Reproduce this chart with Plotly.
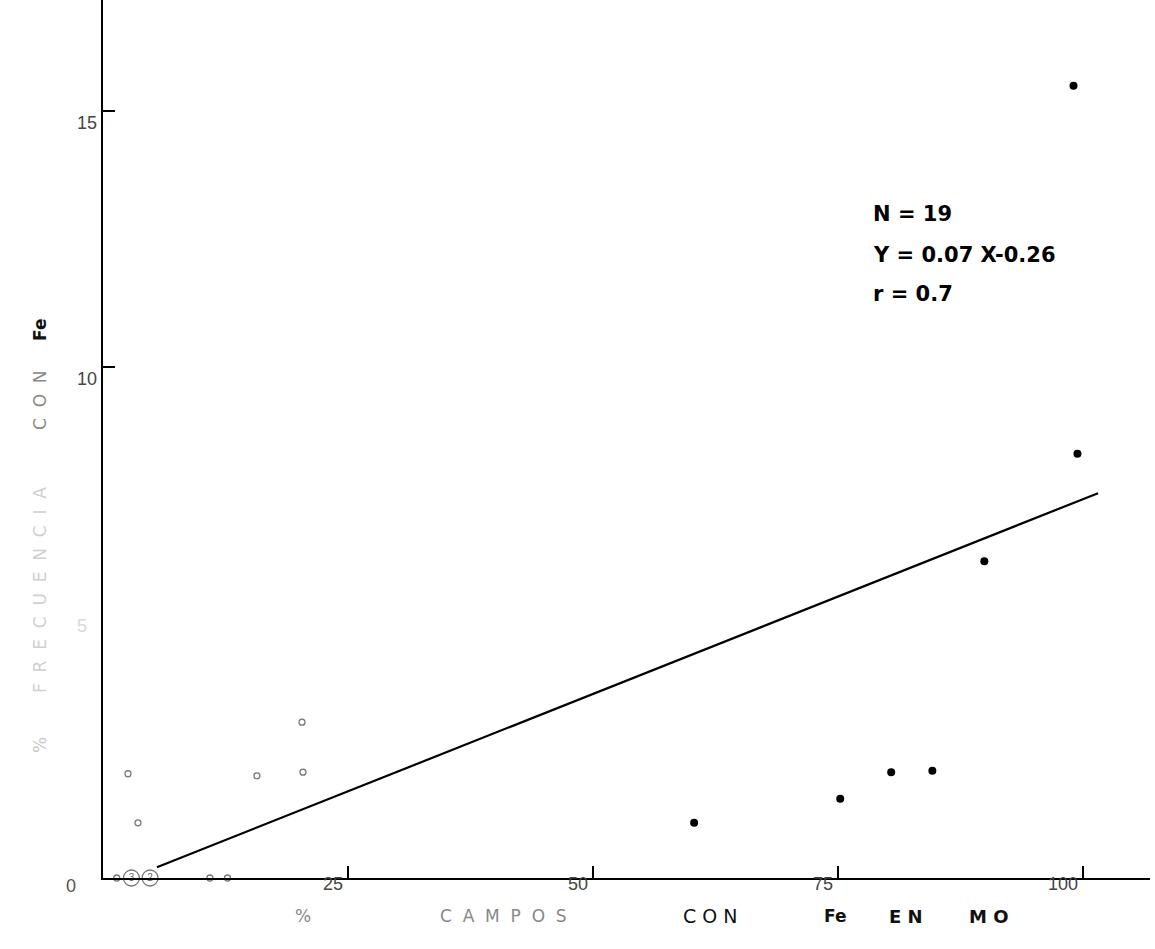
import plotly.graph_objects as go

# ---- data ----
solid_x = [99.0, 99.4, 89.9, 84.6, 80.4, 75.2, 60.3]
solid_y = [15.5, 8.3, 6.2, 2.1, 2.07, 1.55, 1.08]

open_x = [2.55, 3.57, 15.7, 20.3, 20.4, 1.4, 10.9, 12.7]
open_y = [2.04, 1.08, 2.0, 3.05, 2.07, 0.0, 0.0, 0.0]

circ_x = [2.9, 4.8]
circ_y = [0.0, 0.0]
circ_n = ["3", "2"]

line_x = [5.5, 101.5]
line_y = [0.21, 7.53]

x_ticks = [25, 50, 75, 100]
x_tick_labels = ["25", "50", "75", "100"]
y_ticks = [0, 5, 10, 15]
y_tick_labels = ["0", "5", "10", "15"]

stats_lines = ["N = 19", "Y = 0.07 X-0.26", "r = 0.7"]
stats_y = [13.0, 12.2, 11.42]

W, H = 1155, 949
L, R, T, B = 103, 5, 0, 71
pw, ph = W - L - R, H - T - B


def px2paper_x(px):
    return (px - L) / pw


def py2paper_y(py):
    return (H - B - py) / ph


fig = go.Figure()

fig.add_trace(go.Scatter(x=line_x, y=line_y, mode="lines",
                         line=dict(color="black", width=2.2),
                         hoverinfo="skip", showlegend=False))

fig.add_trace(go.Scatter(x=solid_x, y=solid_y, mode="markers",
                         marker=dict(color="black", size=8),
                         cliponaxis=False, showlegend=False))

fig.add_trace(go.Scatter(x=open_x, y=open_y, mode="markers",
                         marker=dict(symbol="circle-open", color="#777", size=6,
                                     line=dict(width=1.3)),
                         cliponaxis=False, showlegend=False))

fig.add_trace(go.Scatter(x=circ_x, y=circ_y, mode="markers+text",
                         text=circ_n, textposition="middle center",
                         textfont=dict(size=10, color="#666", family="Liberation Sans"),
                         marker=dict(symbol="circle-open", color="#777", size=16,
                                     line=dict(width=1.3)),
                         cliponaxis=False, showlegend=False))

annotations = []

# stats text
for txt, yy in zip(stats_lines, stats_y):
    annotations.append(dict(x=78.3, y=yy, xref="x", yref="y", text="<b>" + txt + "</b>",
                            showarrow=False, xanchor="left", yanchor="middle",
                            font=dict(family="DejaVu Sans", size=21, color="black")))

# x tick labels
for v, lab in zip(x_ticks, x_tick_labels):
    annotations.append(dict(x=v, y=0, xref="x", yref="y", text=lab, showarrow=False,
                            xanchor="right", yanchor="middle", xshift=-3, yshift=-6,
                            font=dict(family="Liberation Sans", size=18, color="#444")))

# y tick labels
for v, lab in zip(y_ticks, y_tick_labels):
    if v == 0:
        xs, ys, col = -25, -8, "#555"
    elif v == 5:
        xs, ys, col = -14, -4, "#d8d8d8"
    else:
        xs, ys, col = -4, -12, "#444"
    annotations.append(dict(x=0, y=v, xref="paper", yref="y", text=lab, showarrow=False,
                            xanchor="right", yanchor="middle", xshift=xs, yshift=ys,
                            font=dict(family="Liberation Sans", size=18, color=col)))

# x axis title pieces
xt = [("%", 303, "#888", False, 17),
      ("C  A  M  P  O  S", 503, "#888", False, 17),
      ("C O N", 710, "#111", False, 19),
      ("Fe", 835, "#111", True, 17),
      ("E N", 906, "#111", True, 18),
      ("M O", 988, "#111", True, 18)]
for txt, px, col, bold, sz in xt:
    annotations.append(dict(x=px2paper_x(px), y=py2paper_y(916), xref="paper", yref="paper",
                            text=("<b>" + txt + "</b>") if bold else txt, showarrow=False,
                            xanchor="center", yanchor="middle",
                            font=dict(family="DejaVu Sans", size=sz, color=col)))

# y axis title pieces (rotated)
yt = [("Fe", 330, "#111", True),
      ("C  O  N", 400, "#888", False),
      ("F  R  E  C  U  E  N  C  I  A", 590, "#d0d0d0", False),
      ("%", 745, "#c8c8c8", False)]
for txt, py, col, bold in yt:
    annotations.append(dict(x=px2paper_x(40), y=py2paper_y(py), xref="paper", yref="paper",
                            text=("<b>" + txt + "</b>") if bold else txt, showarrow=False,
                            textangle=-90, xanchor="center", yanchor="middle",
                            font=dict(family="DejaVu Sans", size=17, color=col)))

fig.update_layout(
    width=W, height=H,
    margin=dict(l=L, r=R, t=T, b=B),
    paper_bgcolor="white", plot_bgcolor="white",
    annotations=annotations,
    showlegend=False,
)
fig.update_xaxes(range=[0, 106.8], showgrid=False, zeroline=False,
                 showline=True, linecolor="black", linewidth=1.5,
                 ticks="inside", tickvals=x_ticks, ticklen=12, tickwidth=1.5,
                 tickcolor="black", showticklabels=False)
fig.update_yaxes(range=[0, 17.18], showgrid=False, zeroline=False,
                 showline=True, linecolor="black", linewidth=1.5,
                 ticks="inside", tickvals=[10, 15], ticklen=12, tickwidth=1.5,
                 tickcolor="black", showticklabels=False)

fig.write_html("out.html")
